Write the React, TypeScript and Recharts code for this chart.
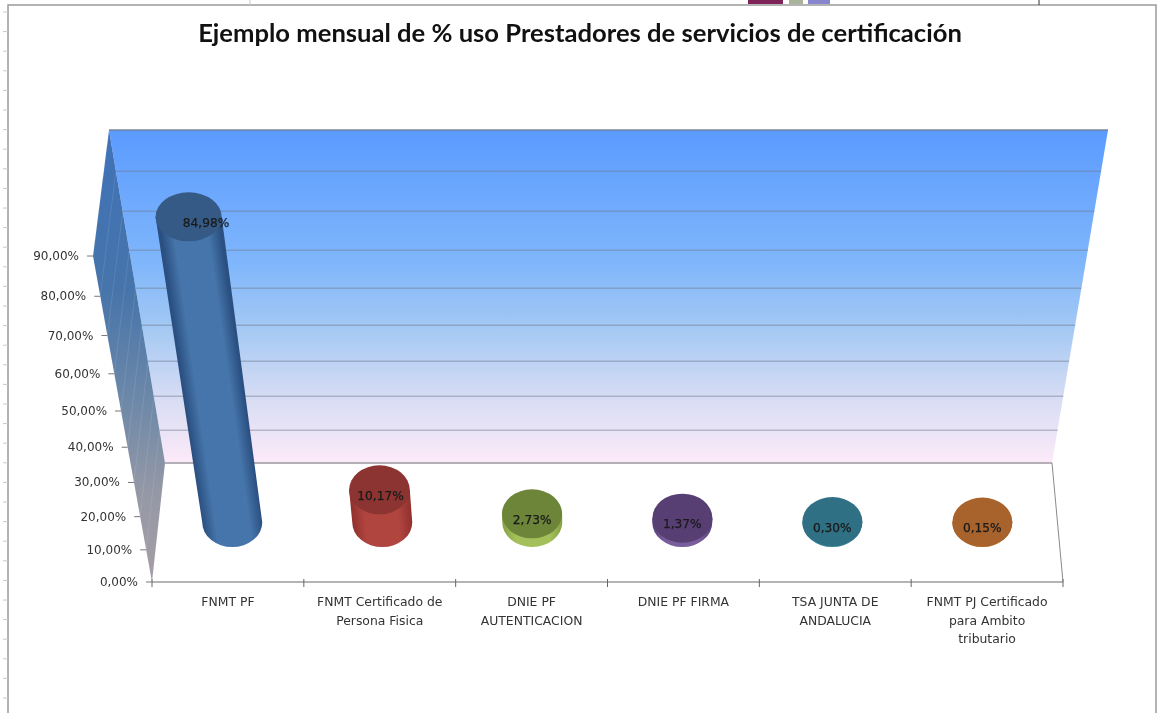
import React from 'react';
import { BarChart, Bar, XAxis, YAxis, LabelList, Customized } from 'recharts';

const categories = [
  'FNMT PF',
  'FNMT Certificado de\nPersona Fisica',
  'DNIE PF\nAUTENTICACION',
  'DNIE PF FIRMA',
  'TSA JUNTA DE\nANDALUCIA',
  'FNMT PJ Certificado\npara Ambito\ntributario',
];
const usage = [84.98, 10.17, 2.73, 1.37, 0.3, 0.15];
const yTicks = [0, 10, 20, 30, 40, 50, 60, 70, 80, 90];
const topColors = ['#365a86', '#8c3431', '#6c8539', '#573f74', '#2f7085', '#a8622b'];
const sideEdge = ['#2a4f80', '#8f302d', '#86a044', '#563f78', '#2a6678', '#96561f'];
const sideMid = ['#4675ab', '#b0443f', '#a3c05a', '#7a5e9c', '#3a8298', '#b8702f'];

const data = categories.map((name, i) => ({ name, value: usage[i] }));

const fmt = (v: number) => v.toFixed(2).replace('.', ',') + '%';

const WIDTH = 1157;
const HEIGHT = 713;
const PLOT_LEFT = 152;
const PLOT_RIGHT = 1063;
const PLOT_TOP = 256;
const PLOT_BOTTOM = 582;
const BAND = (PLOT_RIGHT - PLOT_LEFT) / categories.length;
const SANS = '"DejaVu Sans", sans-serif';

// the 3D view squeezes the low end of the value axis a little
const frac = (v: number) => (v / 90) * (0.874 + (0.126 * v) / 90);

const makeScale = (d: number[] = [0, 90], r: number[] = [1, 0]): any => {
  const s: any = (v: number) => r[0] + (r[1] - r[0]) * frac(((v - d[0]) / (d[1] - d[0])) * 90);
  s.domain = (x?: number[]) => (x ? makeScale(x, r) : d);
  s.range = (x?: number[]) => (x ? makeScale(d, x) : r);
  s.copy = () => makeScale(d, r);
  s.ticks = () => yTicks;
  return s;
};

const outer = (v: number) => ({ x: PLOT_LEFT - 59 * frac(v), y: PLOT_BOTTOM - 326 * frac(v) });
const inner = (v: number) => ({ x: 165 - 56 * frac(v), y: 463 - 333 * frac(v) });

const Backdrop = () => (
  <g>
    <defs>
      <linearGradient id="backWall" gradientUnits="userSpaceOnUse" x1="0" y1="130" x2="0" y2="463">
        <stop offset="0" stopColor="#5b9bff" />
        <stop offset="0.4" stopColor="#7fb6fb" />
        <stop offset="0.6" stopColor="#a5c9f3" />
        <stop offset="0.8" stopColor="#d6dcf4" />
        <stop offset="1" stopColor="#fdeaf8" />
      </linearGradient>
      <linearGradient id="sideWall" gradientUnits="userSpaceOnUse" x1="0" y1="130" x2="0" y2="582">
        <stop offset="0" stopColor="#3f72b8" />
        <stop offset="0.35" stopColor="#4674aa" />
        <stop offset="0.6" stopColor="#6d88a8" />
        <stop offset="0.8" stopColor="#9498a6" />
        <stop offset="1" stopColor="#a59ea6" />
      </linearGradient>
    </defs>

    {/* spreadsheet remains around the chart frame */}
    <rect x={8} y={5} width={1148} height={720} fill="#fff" stroke="#9a9a9a" strokeWidth={1.5} />
    {Array.from({ length: 36 }, (_, i) => (
      <line key={i} x1={3} x2={8} y1={12 + i * 19.6} y2={12 + i * 19.6} stroke="#c8c8c8" />
    ))}
    <rect x={748} y={0} width={35} height={4} fill="#7e2355" />
    <rect x={789} y={0} width={14} height={4} fill="#a9b29a" />
    <rect x={808} y={0} width={22} height={4} fill="#8886cc" />
    <line x1={250} x2={250} y1={0} y2={5} stroke="#c8c8c8" />
    <line x1={1039} x2={1039} y1={0} y2={5} stroke="#333" />

    <text x={580} y={42} textAnchor="middle" fontFamily="Lato, sans-serif" fontWeight={700} fontSize={25.6} fill="#111">
      Ejemplo mensual de % uso Prestadores de servicios de certificación
    </text>

    <polygon points="165,463 109,130 1108,130 1052,463" fill="url(#backWall)" />
    <polygon points="109,130 93,256 152,582 165,463" fill="url(#sideWall)" />
    {yTicks.slice(1).map((v) => (
      <g key={v}>
        <line
          x1={outer(v).x}
          y1={outer(v).y}
          x2={inner(v).x}
          y2={inner(v).y}
          stroke="#fff"
          strokeOpacity={0.1}
        />
        <line
          x1={inner(v).x}
          y1={inner(v).y}
          x2={1052 + 56 * frac(v)}
          y2={inner(v).y}
          stroke="#6f7c90"
          strokeOpacity={v === 90 ? 0.9 : 0.45}
          strokeWidth={1.5}
        />
      </g>
    ))}
    <line x1={165} y1={463} x2={1052} y2={463} stroke="#9b97a0" strokeWidth={1.5} />
    <line x1={1052} y1={463} x2={1063} y2={582} stroke="#8a8a8a" />
    <line x1={PLOT_LEFT} y1={582} x2={PLOT_RIGHT} y2={582} stroke="#b4b4b4" strokeWidth={2} />
  </g>
);

const YTick = ({ y, payload }: any) => {
  const px = PLOT_LEFT - ((PLOT_BOTTOM - y) * 59) / 326;
  return (
    <g>
      <line x1={px - 6} x2={px} y1={y} y2={y} stroke="#777" />
      <text x={px - 14} y={y + 4} textAnchor="end" fontFamily={SANS} fontSize={12} fill="#333">
        {fmt(payload.value)}
      </text>
    </g>
  );
};

const XTick = ({ x, payload, index }: any) => {
  const lines = String(payload.value).split('\n');
  return (
    <g>
      <line x1={x - BAND / 2} x2={x - BAND / 2} y1={PLOT_BOTTOM - 3} y2={PLOT_BOTTOM + 5} stroke="#666" />
      {index === categories.length - 1 && (
        <line x1={x + BAND / 2} x2={x + BAND / 2} y1={PLOT_BOTTOM - 3} y2={PLOT_BOTTOM + 5} stroke="#666" />
      )}
      {lines.map((l, i) => (
        <text key={i} x={x} y={PLOT_BOTTOM + 24 + i * 18.5} textAnchor="middle" fontFamily={SANS} fontSize={12.4} fill="#333">
          {l}
        </text>
      ))}
    </g>
  );
};

// where a cylinder stands: pulled back onto the floor and leaning with the view
const cylinder = (x: number, width: number, height: number) => {
  const mid = 608;
  const bx = mid + (x + width / 2 - mid) * 0.988;
  const by = 522.5;
  const tx = bx + (bx - mid) * 3.8e-4 * height;
  const ty = by - height;
  return { bx, by, tx, ty };
};

const Cylinder = ({ x, width, height, index }: any) => {
  const { bx, by, tx, ty } = cylinder(x, width, height);
  const rb = 30;
  const rt = 30 + height * 0.01;
  const ry = 24.5;
  const len = Math.hypot(tx - bx, by - ty) || 1;
  const nx = (by - ty) / len || 1;
  const ny = (tx - bx) / len;
  const mx = (bx + tx) / 2;
  const my = (by + ty) / 2;
  const id = `side-${index}`;
  return (
    <g>
      <defs>
        <linearGradient
          id={id}
          gradientUnits="userSpaceOnUse"
          x1={mx - nx * rb}
          y1={my - ny * rb}
          x2={mx + nx * rb}
          y2={my + ny * rb}
        >
          <stop offset="0" stopColor={sideEdge[index]} />
          <stop offset="0.22" stopColor={sideMid[index]} />
          <stop offset="0.78" stopColor={sideMid[index]} />
          <stop offset="1" stopColor={sideEdge[index]} />
        </linearGradient>
      </defs>
      <path
        d={`M${bx - rb},${by} L${tx - rt},${ty} L${tx + rt},${ty} L${bx + rb},${by} A${rb},${ry} 0 0 1 ${bx - rb},${by} Z`}
        fill={`url(#${id})`}
      />
      <ellipse cx={tx} cy={ty} rx={rt} ry={ry} fill={topColors[index]} />
    </g>
  );
};

const BarLabel = ({ x, width, height, index }: any) => {
  const { bx, tx, ty } = cylinder(x, width, height);
  return (
    <text
      x={bx + (tx - bx) * 0.6}
      y={ty + 10}
      textAnchor="middle"
      fontFamily={SANS}
      fontSize={12.2}
      fill="#1a1a1a"
      stroke="#1a1a1a"
      strokeWidth={0.25}
    >
      {fmt(usage[index])}
    </text>
  );
};

export default function App() {
  return (
    <div
      style={{
        position: 'absolute',
        left: 0,
        top: 0,
        width: WIDTH,
        height: HEIGHT,
        overflow: 'hidden',
        background: '#fff',
        filter: 'blur(0.5px)',
      }}
    >
      <BarChart
        width={WIDTH}
        height={HEIGHT}
        data={data}
        margin={{ top: PLOT_TOP, right: WIDTH - PLOT_RIGHT, bottom: 0, left: 0 }}
      >
        <Customized component={<Backdrop />} />
        <XAxis
          dataKey="name"
          interval={0}
          height={HEIGHT - PLOT_BOTTOM}
          axisLine={false}
          tickLine={false}
          tick={<XTick />}
        />
        <YAxis
          width={PLOT_LEFT}
          domain={[0, 90]}
          ticks={yTicks}
          scale={makeScale()}
          axisLine={false}
          tickLine={false}
          tick={<YTick />}
        />
        <Bar dataKey="value" isAnimationActive={false} shape={<Cylinder />}>
          <LabelList dataKey="value" content={<BarLabel />} />
        </Bar>
      </BarChart>
    </div>
  );
}
